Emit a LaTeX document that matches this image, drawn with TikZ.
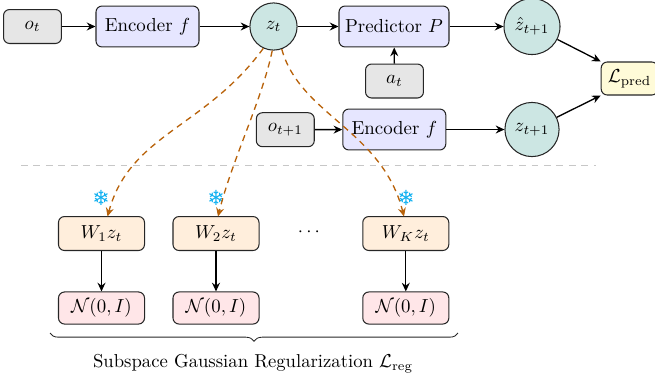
\documentclass[tikz,border=0pt]{standalone}
\usepackage{fontspec}
\usetikzlibrary{arrows.meta,decorations.pathreplacing}
\newfontfamily\symfont{DejaVu Sans}
\definecolor{boxgray}{HTML}{E6E6E6}
\definecolor{boxblue}{HTML}{E6E6FF}
\definecolor{boxteal}{HTML}{CCE6E3}
\definecolor{boxorange}{HTML}{FFEEDC}
\definecolor{boxred}{HTML}{FFE6E8}
\definecolor{boxyellow}{HTML}{FFFBD8}
\definecolor{frozen}{HTML}{B8620A}
\definecolor{ice}{HTML}{10B0F0}
\tikzset{
  x=0.53pt,y=-0.53pt,
  basebox/.style={draw=black!85,line width=0.55pt,rounded corners=3.2pt,inner sep=0pt,minimum height=18pt},
  graybox/.style={basebox,fill=boxgray,minimum width=30.7pt},
  bluebox/.style={basebox,fill=boxblue,minimum height=21.7pt},
  orangebox/.style={basebox,fill=boxorange,minimum width=45.6pt},
  redbox/.style={basebox,fill=boxred,minimum width=45.6pt,minimum height=17pt},
  yellowbox/.style={basebox,fill=boxyellow,minimum width=30pt,minimum height=17.5pt},
  latent/.style={circle,draw=black!85,line width=0.55pt,fill=boxteal,inner sep=0pt},
  flow/.style={-{Stealth[length=4.6pt,width=4.2pt,inset=1.5pt]},black,line width=0.7pt},
  frozenflow/.style={-{Stealth[length=4.6pt,width=4.2pt,inset=1.5pt]},frozen,dash pattern=on 3.3pt off 2.6pt,line width=0.7pt},
  flake/.style={text=ice,inner sep=0pt,font=\symfont\fontsize{11}{13}\selectfont},
}
\begin{document}
\begin{tikzpicture}
\useasboundingbox (0,0) rectangle (655,380);
\node[graybox] (ot) at (32.5,26.5) {$o_t$};
\node[bluebox,minimum width=54.6pt] (enc) at (147.5,26.5) {Encoder $f$};
\node[latent,minimum size=25pt] (zt) at (273.5,26.5) {$z_t$};
\node[bluebox,minimum width=58.3pt] (pred) at (394,26.5) {Predictor $P$};
\node[latent,minimum size=29.7pt] (zh) at (532,26.5) {$\hat z_{t+1}$};
\node[graybox] (at) at (394.5,81) {$a_t$};
\node[bluebox,minimum width=54.6pt] (enc2) at (394.3,129.5) {Encoder $f$};
\node[graybox] (ot1) at (285.3,129.7) {$o_{t+1}$};
\node[latent,minimum size=28.7pt] (z1) at (532,129.5) {$z_{t+1}$};
\node[yellowbox] (L) at (629.5,78.5) {$\mathcal{L}_{\mathrm{pred}}$};

\coordinate (sepa) at (21,165.5);
\coordinate (sepb) at (596,165.5);
\draw[black!22,dash pattern=on 3.6pt off 3pt,line width=0.4pt] (sepa) -- (sepb);

\node[orangebox] (w1) at (101.5,233.5) {$W_1 z_t$};
\node[orangebox] (w2) at (216,233.5) {$W_2 z_t$};
\node[orangebox] (wk) at (405.8,233.5) {$W_K z_t$};
\node[redbox] (n1) at (101.5,308) {$\mathcal{N}(0,I)$};
\node[redbox] (n2) at (216,308) {$\mathcal{N}(0,I)$};
\node[redbox] (nk) at (405.8,308) {$\mathcal{N}(0,I)$};
\node[inner sep=0pt] (dots) at (309,232) {$\cdots$};
\node[flake] (f1) at (101,198) {❄};
\node[flake] (f2) at (216,198) {❄};
\node[flake] (fk) at (406,198) {❄};

\draw[flow] (ot) -- (enc);
\draw[flow] (enc) -- (zt);
\draw[flow] (zt) -- (pred);
\draw[flow] (pred) -- (zh);
\draw[flow] (at) -- (pred);
\draw[flow] (ot1) -- (enc2);
\draw[flow] (enc2) -- (z1);
\draw[flow] (zh) -- (L.north west);
\draw[flow] (z1) -- (L.south west);
\draw[flow] (w1) -- (n1);
\draw[flow] (w2) -- (n2);
\draw[flow] (wk) -- (nk);

\coordinate (t1) at (107.5,216.5);
\coordinate (t2) at (218,216.5);
\coordinate (tk) at (404,216.5);
\draw[frozenflow] (zt.-115) .. controls (205,128) and (130,134) .. (t1);
\draw[frozenflow] (zt.-93) .. controls (262,100) and (232,160) .. (t2);
\draw[frozenflow] (zt.-70) .. controls (300,115) and (382,130) .. (tk);

\coordinate (ba) at (50,333);
\coordinate (bb) at (458,333);
\draw[decorate,decoration={brace,mirror,amplitude=4.4pt},black!85,line width=0.45pt] (ba) -- (bb);
\node[inner sep=0pt,scale=0.99] (cap) at (253,364) {Subspace Gaussian Regularization $\mathcal{L}_{\mathrm{reg}}$};
\end{tikzpicture}
\end{document}
